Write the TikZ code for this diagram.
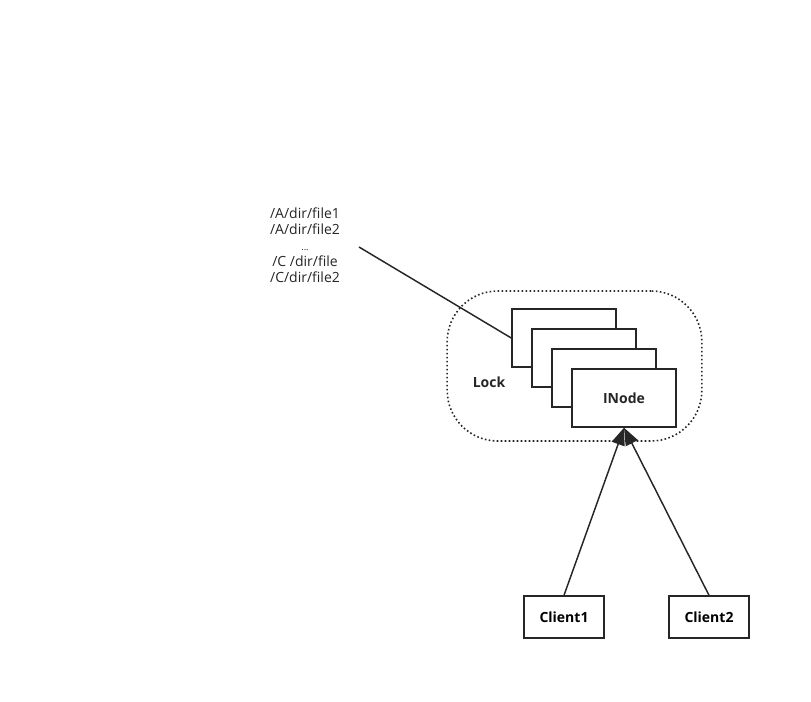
\documentclass[tikz,border=0pt]{standalone}
\usepackage{fontspec}
\setmainfont{Open Sans}
\usetikzlibrary{positioning}
\usetikzlibrary{arrows.meta}
\usetikzlibrary{calc}
\tikzstyle{page}=[rectangle,draw=black!85,fill=white,line width=1.1pt,minimum width=78pt,minimum height=43.5pt,inner sep=0pt]
\tikzstyle{client}=[rectangle,draw=black!85,fill=white,line width=1.1pt,minimum width=60pt,minimum height=31.5pt,inner sep=0pt,font=\bfseries\fontsize{10.5}{12}\selectfont]
\tikzstyle{edge} = [draw,line width=1.1pt,black!85,-{Triangle[length=13pt,width=10pt]}]
\tikzstyle{undirectededge} = [draw,line width=1.1pt,black!85]
\tikzstyle{label} = [font=\bfseries\fontsize{10.5}{12}\selectfont,text=black!85]

\begin{document}
\begin{tikzpicture}[x=0.75pt,y=-0.75pt]
    \useasboundingbox (0,0) rectangle (811,701);

    % dotted area round the lock
    \node[draw=black!85,line width=1.2pt,dash pattern=on 1.2pt off 1.8pt,rounded corners=38pt,
          minimum width=191pt,minimum height=112.5pt] (lockarea) at (574.5,366) {};

    \foreach \pos/\name in {{(564,338)/page1}, {(584,358)/page2}, {(604,378)/page3}}
        \node[page] (\name) at \pos {};
    \node[page,label] (inode) at (624,398) {INode};

    \node[label] (lock) at (489,382) {Lock};

    \node[align=center,font=\fontsize{10.5}{12}\selectfont,text=black!85] (paths) at (305,245)
        {/A/dir/file1\\/A/dir/file2\\{\scriptsize ...}\\/C /dir/file\\/C/dir/file2};
    \coordinate (pathend) at (359,247);
    \path[undirectededge] (pathend) -- (page1.west);

    \node[client] (client1) at (564,617) {Client1};
    \node[client] (client2) at (709,617) {Client2};

    \foreach \source/\dest in {client1/inode, client2/inode}
        \path[edge] (\source.north) -- (\dest.south);
\end{tikzpicture}
\end{document}
